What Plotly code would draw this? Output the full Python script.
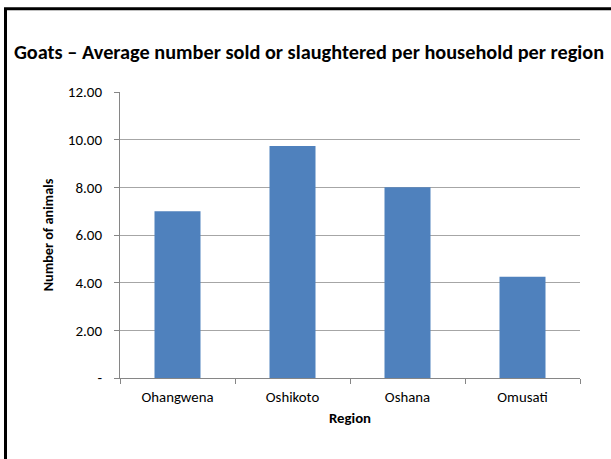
import plotly.graph_objects as go

# Average number of goats sold or slaughtered per household, by region
regions = ["Ohangwena", "Oshikoto", "Oshana", "Omusati"]
avg_goats = [7.0, 9.73, 8.0, 4.25]

y_tick_vals = [0, 2, 4, 6, 8, 10, 12]
y_tick_text = ["-", "2.00", "4.00", "6.00", "8.00", "10.00", "12.00"]

FONT = "Carlito, Lato, sans-serif"
W, H = 611, 459
L, R, T, B = 120, 31, 92, 80.5
plot_w = W - L - R
plot_h = H - T - B

fig = go.Figure(
    go.Bar(
        x=regions,
        y=avg_goats,
        marker=dict(color="#4F81BD", line=dict(width=0)),
        hoverinfo="x+y",
    )
)

fig.update_layout(
    width=W,
    height=H,
    margin=dict(l=L, r=R, t=T, b=B, autoexpand=False),
    paper_bgcolor="white",
    plot_bgcolor="white",
    bargap=0.6,
    showlegend=False,
    font=dict(family=FONT, size=15, color="black"),
    title=dict(
        text="<b>Goats – Average number sold or slaughtered per household per region</b>",
        x=309 / W,
        xanchor="center",
        xref="container",
        y=1 - 52 / H,
        yanchor="middle",
        yref="container",
        font=dict(family=FONT, size=20.3, color="black"),
    ),
)

fig.update_xaxes(
    type="category",
    showline=True,
    linecolor="#868686",
    linewidth=1,
    ticks="outside",
    tickson="boundaries",
    ticklen=5,
    tickcolor="#868686",
    ticklabelstandoff=5,
    tickfont=dict(size=14.8),
    showgrid=False,
    title=dict(text="<b>Region</b>", font=dict(size=14.8), standoff=7),
)

fig.update_yaxes(
    range=[0, 12],
    tickmode="array",
    tickvals=y_tick_vals,
    ticktext=y_tick_text,
    showline=True,
    linecolor="#868686",
    linewidth=1,
    ticks="outside",
    ticklen=5,
    tickcolor="#868686",
    ticklabelstandoff=9,
    tickfont=dict(size=15),
    showgrid=True,
    gridcolor="#A6A6A6",
    gridwidth=1,
    zeroline=False,
    title=dict(text="<b>Number of animals</b>", font=dict(size=14.2), standoff=10),
)

# Slide frame along the left and top edges
fig.add_shape(
    type="rect",
    xref="paper",
    yref="paper",
    x0=(5.5 - L) / plot_w,
    x1=2.0,
    y0=-1.0,
    y1=(H - B - 8.5) / plot_h,
    line=dict(color="black", width=3),
    fillcolor="rgba(0,0,0,0)",
    layer="above",
)

fig.write_html("out.html")
